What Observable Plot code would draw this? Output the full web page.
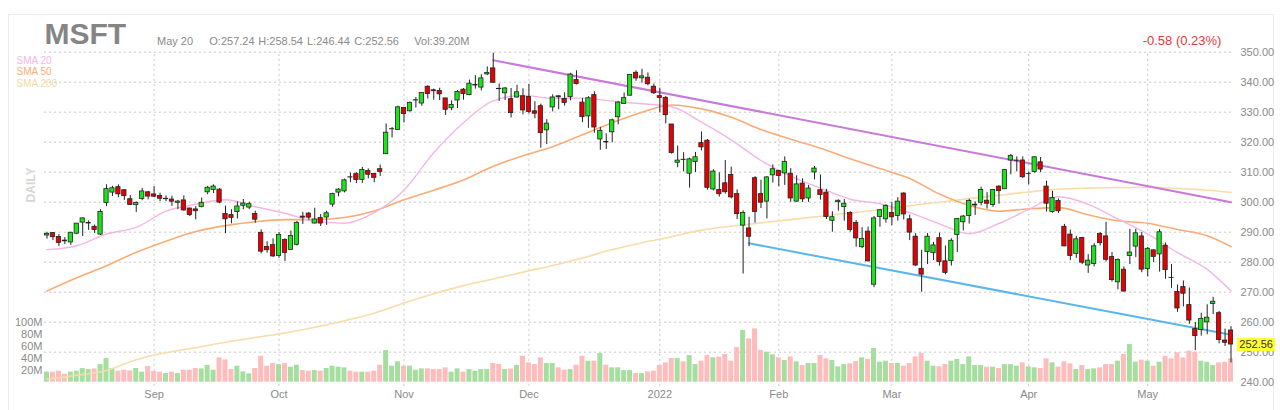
<!DOCTYPE html>
<html><head><meta charset="utf-8">
<script src="https://cdn.jsdelivr.net/npm/d3@7"></script>
<script src="https://cdn.jsdelivr.net/npm/@observablehq/plot@0.6"></script>
<style>
body{margin:0;background:#fff;font-family:"Liberation Sans",Arial,sans-serif;}
#wrap{position:relative;width:1280px;height:410px;overflow:hidden;}
#panel{position:absolute;left:8px;top:14px;width:1266px;height:405px;border:1px solid #ececec;box-sizing:border-box;}
.t{position:absolute;white-space:nowrap;color:#8a8a8a;line-height:1;}
#chart{position:absolute;left:0;top:0;}
</style></head><body><div id="wrap"><div id="panel"></div><div id="chart"></div></div>
<script>
// ---- data (trading-day index 0 = Aug 6 2021 ... 199 = May 20 2022) ----
const openP = [288.9,289.7,288.4,287.2,286.6,289.5,293.2,292.9,291.8,289.2,299.7,303.2,305.0,304.0,301.0,299.0,301.1,303.3,302.6,302.1,301.0,300.9,299.8,300.6,297.9,297.6,298.4,303.3,304.1,304.2,
296.1,295.7,296.7,298.8,298.2,296.1,289.8,285.1,285.7,282.1,287.4,284.05,285.8,295.2,296.2,292.9,294.7,294.9,299.2,303.2,303.6,308.3,309.35,307.4,310.4,309.4,311.0,316.0,324.3,324.1,
331.4,330.3,333.9,332.9,338.5,337.3,337.1,334.6,331.3,333.9,337.5,335.7,338.9,338.2,342.6,344.6,337.8,336.3,334.35,334.9,335.3,335.1,330.3,332.0,323.95,331.6,335.3,334.4,335.0,340.7,
333.2,328.6,335.7,320.9,320.05,323.3,328.3,332.75,335.5,343.15,341.3,341.5,338.5,335.35,334.8,325.9,313.15,314.15,309.5,313.4,319.7,320.5,304.25,304.1,306.3,309.1,302.7,292.2,291.25,307.99,
302.7,300.2,308.95,310.4,309.6,309.5,300.2,306.2,301.25,309.9,304.0,303.2,293.8,300.0,298.4,296.4,293.05,285.0,290.2,272.5,295.1,294.3,296.4,295.4,302.9,294.3,288.5,277.8,283.4,283.0,
288.0,280.3,280.35,289.1,293.3,295.4,298.9,299.8,300.5,299.1,305.2,304.3,313.9,313.8,313.9,309.4,310.1,313.3,305.2,296.7,300.4,291.8,289.2,282.7,288.1,278.9,279.4,289.4,288.6,281.7,
273.3,277.5,282.1,285.2,288.6,277.7,283.96,282.6,285.5,274.8,270.1,271.7,265.7,257.7,257.35,259.96,266.1,263.0,253.9,257.24];
const highP = [289.97,289.8,289.2,288.2,289.97,292.9,294.8,293.8,292.4,297.5,305.8,305.3,305.8,304.2,302.2,300.1,304.6,303.6,305.2,303.0,302.1,302.0,300.6,302.1,298.0,298.5,301.4,305.3,305.8,304.5,
298.7,297.5,300.1,300.9,300.0,297.0,290.8,286.8,287.8,289.9,287.8,290.4,293.6,296.6,296.6,298.0,295.9,297.0,303.0,304.5,307.7,309.7,309.8,311.6,311.1,309.6,312.4,326.1,324.9,332.0,
331.5,333.4,334.9,336.5,338.8,337.7,338.0,334.6,333.8,337.2,337.9,340.7,342.2,342.5,345.1,349.67,339.4,338.2,337.9,339.0,337.8,339.3,333.5,332.7,327.5,335.8,335.5,336.5,343.0,343.8,
334.6,335.2,336.8,324.9,322.8,327.7,333.6,336.4,342.5,343.8,344.3,343.1,339.4,338.0,335.2,325.9,318.7,316.5,314.7,316.6,323.4,320.9,310.8,309.8,313.9,311.7,304.1,297.1,294.99,308.5,
307.3,308.5,312.4,310.6,315.1,311.2,308.8,307.8,305.6,311.9,309.1,304.3,296.8,300.8,300.9,296.8,293.9,291.5,291.7,295.2,297.6,299.1,299.97,301.5,303.1,295.7,289.5,283.96,289.6,286.6,
289.7,285.4,287.8,294.5,295.6,301.0,300.1,305.0,303.2,304.2,305.5,310.8,315.95,315.1,315.1,310.1,315.1,314.9,307.0,303.65,301.1,292.6,290.7,288.6,288.3,282.5,286.2,289.9,293.3,283.2,
281.1,278.4,290.97,290.98,289.9,284.9,284.1,290.9,286.4,279.25,272.4,273.75,271.4,259.9,263.0,265.8,268.3,263.6,257.7,258.54];
const lowP = [287.7,287.2,285.2,285.9,285.6,289.2,288.6,290.6,289.6,288.9,298.5,301.9,301.5,300.6,298.9,296.6,300.5,300.8,301.5,300.2,300.2,298.6,297.5,297.0,295.2,294.1,298.1,302.5,302.9,299.5,
289.5,292.8,294.4,297.5,297.5,293.0,282.8,283.0,281.6,281.3,280.25,284.0,285.4,292.6,294.0,292.7,291.9,292.3,298.3,301.8,303.1,306.5,306.2,306.3,307.8,306.5,308.6,316.0,321.4,323.9,
326.4,330.1,331.4,332.0,334.4,334.0,333.9,328.9,330.5,331.2,334.0,335.5,337.7,337.1,342.2,339.6,333.6,333.9,328.1,334.7,329.1,329.4,327.8,318.0,319.2,330.1,330.8,332.0,333.8,339.1,
326.5,324.6,323.0,317.3,317.6,319.8,325.8,332.7,335.4,340.3,339.7,338.8,335.9,329.8,326.1,316.0,311.5,310.1,304.7,309.9,317.1,304.0,303.75,301.7,302.7,301.1,294.2,276.05,285.2,293.0,
297.9,294.45,306.4,305.1,305.6,299.96,299.97,299.9,299.95,307.4,300.7,294.2,290.0,297.0,293.7,290.0,284.96,284.5,280.1,271.5,291.65,293.0,292.15,293.7,294.05,287.2,278.5,270.0,279.2,280.6,
278.7,275.8,278.7,283.2,290.4,292.7,295.6,298.8,297.7,298.3,299.3,304.3,309.1,310.1,307.9,305.8,309.7,309.9,296.7,296.35,296.2,285.2,280.5,281.3,279.2,276.3,278.4,285.4,280.1,273.4,
270.8,270.0,279.2,281.5,276.5,275.1,279.9,276.7,274.3,271.3,263.3,265.1,259.3,250.5,255.35,255.8,262.5,252.8,251.9,246.44];
const closeP = [289.46,288.33,286.44,286.95,289.81,292.85,294.6,293.08,290.73,296.77,304.36,304.65,302.62,302.01,299.09,299.72,303.59,301.88,301.83,301.15,301.14,300.18,300.21,297.25,295.71,296.99,299.79,304.82,305.22,299.87,
294.3,294.8,298.58,299.56,299.35,294.17,283.52,284.0,281.92,289.1,283.11,288.76,293.11,294.85,294.85,294.23,292.88,296.31,302.75,304.21,307.29,308.23,307.41,310.76,309.16,308.13,310.11,323.17,324.35,331.62,
329.37,333.13,334.0,336.44,336.06,336.99,335.95,330.8,332.43,336.72,336.07,339.51,339.12,341.27,343.11,339.83,337.68,337.91,329.68,336.63,330.59,330.08,329.49,323.01,326.19,334.92,334.97,333.1,342.54,339.4,
328.34,334.65,324.9,323.8,319.91,327.29,333.2,334.69,342.45,341.25,341.95,339.32,336.32,334.75,329.01,316.38,313.88,314.04,314.27,314.98,318.27,304.8,310.2,302.65,303.33,301.6,296.03,296.37,288.49,296.71,
299.84,308.26,310.98,308.76,313.46,301.25,305.94,300.95,304.56,311.21,302.38,295.04,295.0,300.47,299.5,290.73,287.93,287.72,280.27,294.59,297.31,298.79,294.95,300.19,295.92,289.86,278.91,275.85,288.5,285.59,
280.07,276.44,287.15,294.39,295.22,300.43,299.16,304.06,299.49,304.1,303.68,310.7,315.41,313.86,308.31,309.42,314.97,310.88,299.5,301.37,296.97,285.26,282.06,287.62,279.83,280.52,285.3,286.36,280.81,274.03,
280.72,270.22,283.22,289.63,277.52,284.47,281.78,289.98,277.35,274.73,264.58,269.5,260.55,255.35,261.12,261.5,266.82,254.08,253.14,252.56];
const volumeM = [16.7,16.7,18.3,13.3,16.7,18.3,22.8,21.1,22.2,29.4,39.4,22.8,18.3,20,18.9,22.8,16.7,26.1,17.8,16.7,14.4,16.7,14.4,20,20,22.8,22.2,27.8,20,40.6,
37.2,21.1,26.7,17.2,13.9,22.8,43.3,26.7,31.1,29.4,31.1,25,28.3,19.4,18.3,19.4,18.3,22.8,26.7,25,23.9,18.3,16.7,16.7,16.7,18.3,28.3,52.8,26.7,34,
26.7,26.7,20,22.2,22.2,21.1,21.1,23.9,16.7,22.2,16.7,21.1,18.3,21.1,21.1,31.1,29.4,21,22,27.8,43.3,32.2,29.4,40.6,31.1,31.1,23.9,20,21,28.3,
43.3,35,35,47.8,28.3,23.9,23.9,19.4,19.4,14.4,14.4,17.2,18.3,27.8,32.2,39.4,39.4,33.9,44.4,29.4,35,44.4,40.6,41.7,46.1,35,57.8,86.4,72.2,88.9,
52.8,50,45.6,40.6,36.1,42.2,33.9,27.8,31.1,31.1,44.4,38.9,36.1,25.6,29.4,30.6,34.4,40.6,37.8,56.1,33.3,35,31.1,31.1,26.7,31.1,42.2,47.8,35,26.7,
25.6,29.4,35,37.8,29.4,42.2,27.8,27.8,25,25,22.8,29.4,29.4,26.7,32.2,25.6,23.9,22.8,38.9,32.2,25,33.9,30.6,21.1,27.8,21.1,22.2,23.9,29.4,29.4,
35,46.1,62.8,33.3,36.7,35,26.7,33.3,43.3,38.9,48.9,40.6,51.7,50,35,33.3,27.8,32.2,33.3,38.9];

const smaIdx = [0,5,10,15,20,25,30,35,40,45,50,55,60,65,70,75,80,85,90,95,100,105,110,115,120,125,130,135,140,145,150,155,160,165,170,175,180,185,190,195,199];
const sma20 = [284.2,285.5,289.4,291.6,297,299.3,300.8,298.5,296.3,293.6,293,296.5,304,316.5,326.5,333.8,335.6,334.6,334.7,333.7,332.8,331.8,326.7,320.8,313.9,308.7,304.7,301,299.5,296.5,292.8,289.5,292.9,297.6,301.8,299.3,294.4,289.4,283.2,277.6,270.4];
const sma50 = [270.4,274.8,278.8,283.3,287,290.2,292.2,293.5,294.2,294.2,294.9,297.1,300.8,304,307.4,312,315.5,318.5,322.5,326.5,330,332.4,331.1,328.3,324.2,321,318,314.5,311.2,307.9,302.7,298.9,297,297.8,298.2,295.8,293.8,293,290.9,288.8,285.2];
const sma200 = [241,242.3,243.9,247.5,249.8,251.5,253.3,254.9,256.4,258.3,260.5,263,266.4,269.5,272.2,274.4,276.7,278.9,281.4,284.2,286.5,288.5,290.7,292,293.1,294.2,295.3,296.4,297.5,298.8,300,301.2,302.3,303.4,304.3,304.7,304.9,305,304.6,304,303.3];

// trend lines (index, price)
const resistIdx = [75,199], resistP = [347.3,300];
const supportIdx = [118,199], supportP = [286.3,255.8];

// axes
const monthIdx = [18,39,60,81,103,123,142,165,185];
const monthLabels = ["Sep","Oct","Nov","Dec","2022","Feb","Mar","Apr","May"];
const priceTicks = [350,340,330,320,310,300,290,280,270,260,250,240];
const gridPrices = [350,340,330,320,310,300,290,280,270,260,250];
const volTicks = [100,80,60,40,20];
const volBase = 240, volPerM = 0.2; // volume panel drawn on price scale: 100M spans 20 price units

const candles = openP.map((o,i)=>({i,o,h:highP[i],l:lowP[i],c:closeP[i],v:volumeM[i],up:closeP[i]>=o}));
const smaData = smaIdx.map((d,k)=>({i:d,s20:sma20[k],s50:sma50[k],s200:sma200[k]}));
const resist = resistIdx.map((d,k)=>({i:d,p:resistP[k]}));
const support = supportIdx.map((d,k)=>({i:d,p:supportP[k]}));

const font = "Liberation Sans, Arial, sans-serif";
const chart = Plot.plot({
  width:1280, height:410,
  marginLeft:44, marginRight:47, marginTop:51.7, marginBottom:28.3,
  x:{type:"linear", domain:[-0.42,199.42], label:null},
  y:{type:"linear", domain:[240,350], label:null},
  style:{fontFamily:font, fontSize:"11px", color:"#888", background:"transparent", overflow:"visible"},
  marks:[
    Plot.ruleY(gridPrices,{y:d=>d, stroke:"#c8c8c8", strokeDasharray:"2,3", strokeWidth:1}),
    Plot.ruleX(monthIdx,{x:d=>d, y1:238.6, y2:350, stroke:"#c8c8c8", strokeDasharray:"2,3", strokeWidth:1}),
    Plot.rect(candles,{x1:d=>d.i-0.42, x2:d=>d.i+0.42, y1:volBase, y2:d=>volBase+d.v*volPerM, fill:d=>d.up?"#a6dea0":"#ffbcbc"}),
    Plot.line(smaData,{x:"i", y:"s200", stroke:"#f8dcaa", strokeWidth:1.6, curve:"monotone-x"}),
    Plot.line(smaData,{x:"i", y:"s50", stroke:"#fbac76", strokeWidth:1.6, curve:"monotone-x"}),
    Plot.line(smaData,{x:"i", y:"s20", stroke:"#f4b6e6", strokeWidth:1.4, curve:"monotone-x"}),
    Plot.line(resist,{x:"i", y:"p", stroke:"#c77ad8", strokeWidth:2}),
    Plot.line(support,{x:"i", y:"p", stroke:"#5ab6ea", strokeWidth:2}),
    Plot.ruleX(candles,{x:"i", y1:"l", y2:"h", stroke:"#222", strokeWidth:1}),
    Plot.rect(candles,{x1:d=>d.i-0.36, x2:d=>d.i+0.36, y1:"o", y2:"c", fill:d=>d.up?"#19e619":"#e60000", stroke:"#222", strokeWidth:0.8}),
    Plot.axisY(priceTicks,{anchor:"right", label:null, tickSize:0, tickPadding:7, tickFormat:d=>d.toFixed(2), fill:"#8a8a8a", fontSize:11}),
    Plot.axisX(monthIdx,{anchor:"bottom", label:null, tickSize:0, tickPadding:8, tickFormat:d=>monthLabels[monthIdx.indexOf(d)], fill:"#8a8a8a", fontSize:11}),
    Plot.text(volTicks,{frameAnchor:"left", y:d=>volBase+d*volPerM, text:d=>d+"M", textAnchor:"end", dx:-2, fill:"#8a8a8a", fontSize:11})
  ]
});
document.getElementById("chart").appendChild(chart);

const wrap = document.getElementById("wrap");
function addText(txt,left,top,size,color,extra){
  const d=document.createElement("div"); d.className="t"; d.textContent=txt;
  d.style.left=left+"px"; d.style.top=top+"px"; d.style.fontSize=size+"px";
  if(color) d.style.color=color; if(extra) Object.assign(d.style,extra);
  wrap.appendChild(d); return d;
}
addText("MSFT",44.5,19,30,"#858585",{fontWeight:"bold"});
addText("May 20",157,35.7,11);
addText("O:257.24",209.3,35.7,11);
addText("H:258.54",258.3,35.7,11);
addText("L:246.44",307,35.7,11);
addText("C:252.56",354.3,35.7,11);
addText("Vol:39.20M",414.3,35.7,11);
addText("-0.58 (0.23%)",1142.7,34,13,"#e03a3a");
addText("SMA 20",16.5,55.5,10,"#f4b6e6");
addText("SMA 50",16.5,67.2,10,"#fbac76");
addText("SMA 200",16.5,78.8,10,"#f3d9a4");
addText("DAILY",13.7,179,12,"#d6d6d6",{fontWeight:"bold",transform:"rotate(-90deg)",transformOrigin:"center"});
const yLast = chart.scale("y").apply(closeP[closeP.length-1]);
addText(closeP[closeP.length-1].toFixed(2),1237.3,yLast-6.5,11,"#333",{background:"#ffff33",padding:"1px 2px",lineHeight:"11px"});
</script></body></html>
